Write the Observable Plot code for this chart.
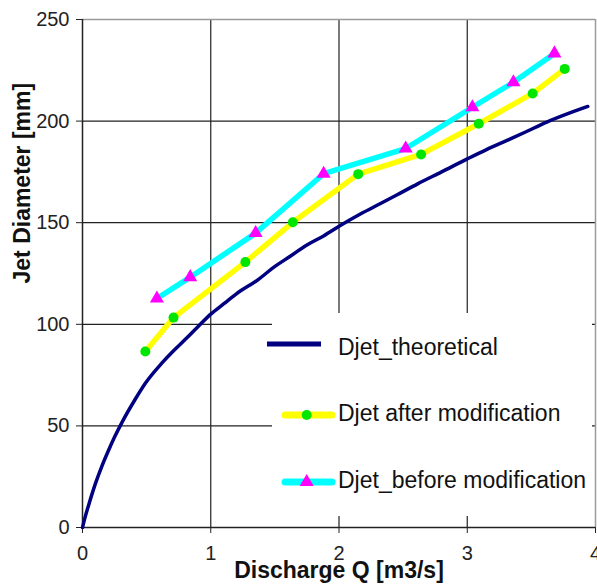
<!DOCTYPE html>
<html>
<head>
<meta charset="utf-8">
<script src="https://cdn.jsdelivr.net/npm/d3@7"></script>
<script src="https://cdn.jsdelivr.net/npm/@observablehq/plot@0.6"></script>
<style>
  html, body { margin: 0; padding: 0; background: #fff; }
  #wrap { position: relative; width: 597px; height: 588px; font-family: 'Liberation Sans', Arial, sans-serif; }
  #legend { position: absolute; left: 262px; top: 313px; }
</style>
</head>
<body>
<div id="wrap"></div>
<script>
// ---- data ----
const theoQ = [0, 0.02, 0.05, 0.1, 0.15, 0.2, 0.25, 0.31, 0.41, 0.49, 0.62, 0.71, 0.8, 0.9, 1.0, 1.1, 1.2, 1.37, 1.49, 1.62, 1.75, 1.88, 2.01, 2.17, 2.32, 2.45, 2.61, 2.8, 3.0, 3.15, 3.31, 3.45, 3.62, 3.8, 3.94];
const theoD = [0, 5, 11.5, 21.5, 30, 37.5, 44.5, 52, 63, 71, 81, 87, 92.5, 98.8, 105, 110, 115, 122, 128, 133.5, 139, 143.5, 148.6, 154.4, 159.3, 163.6, 169, 175, 181.4, 186, 190.5, 194.5, 199.5, 204, 207.2];

const afterQ = [0.49, 0.71, 1.27, 1.64, 2.15, 2.64, 3.09, 3.51, 3.76];
const afterD = [86.6, 103.3, 130.6, 150.2, 173.9, 183.6, 198.7, 213.6, 225.7];

const beforeQ = [0.58, 0.84, 1.35, 1.88, 2.52, 3.04, 3.36, 3.68];
const beforeD = [112.7, 123.2, 144.9, 174.1, 186.5, 206.8, 219.1, 233.3];

const xTicks = [0, 1, 2, 3, 4];
const yTicks = [0, 50, 100, 150, 200, 250];
const xGrid = [1, 2, 3];
const yGrid = [50, 100, 150, 200];

const xTitle = "Discharge Q [m3/s]";
const yTitle = "Jet Diameter [mm]";
const seriesNames = ["Djet_theoretical", "Djet after modification", "Djet_before modification"];

// ---- tables ----
const theo = theoQ.map((q, i) => ({Q: q, D: theoD[i]}));
const after = afterQ.map((q, i) => ({Q: q, D: afterD[i]}));
const before = beforeQ.map((q, i) => ({Q: q, D: beforeD[i]}));

const chart = Plot.plot({
  width: 597,
  height: 588,
  marginLeft: 82,
  marginRight: 2,
  marginTop: 19,
  marginBottom: 61,
  x: {domain: [0, 4]},
  y: {domain: [0, 250]},
  style: {fontFamily: "'Liberation Sans', Arial, sans-serif", fontSize: "20px", color: "#222", background: "white", overflow: "visible"},
  marks: [
    Plot.gridX(xGrid, {stroke: "#222", strokeOpacity: 1, strokeWidth: 1.2}),
    Plot.gridY(yGrid, {stroke: "#222", strokeOpacity: 1, strokeWidth: 1.2}),
    Plot.ruleY([250], {stroke: "#9a9a9a", strokeWidth: 1.5}),
    Plot.ruleX([4], {stroke: "#9a9a9a", strokeWidth: 1.5}),
    Plot.axisY({ticks: yTicks, tickSize: 6, tickPadding: 7, label: null, fontSize: 20, stroke: "#222", tickFormat: d3.format("d")}),
    Plot.axisX({ticks: xTicks, tickSize: 6, tickPadding: 12, label: null, fontSize: 20, stroke: "#222", tickFormat: d3.format("d")}),
    Plot.ruleX([0], {stroke: "#222", strokeWidth: 1.5}),
    Plot.ruleY([0], {stroke: "#222", strokeWidth: 1.5}),
    Plot.line(theo, {x: "Q", y: "D", stroke: "#000080", strokeWidth: 3.5, curve: "monotone-x"}),
    Plot.line(after, {x: "Q", y: "D", stroke: "#ffff00", strokeWidth: 5.5}),
    Plot.line(before, {x: "Q", y: "D", stroke: "#00ffff", strokeWidth: 5.5}),
    Plot.dot(after, {x: "Q", y: "D", r: 5, fill: "#00e600", stroke: "none"}),
    Plot.dot(before, {x: "Q", y: "D", r: 5.2, symbol: "triangle", fill: "#ff00ff", stroke: "none"}),
    Plot.text([xTitle], {text: d => d, frameAnchor: "bottom", dy: 50, fontWeight: "bold", fontSize: 23, fill: "#111"}),
    Plot.text([yTitle], {text: d => d, frameAnchor: "left", rotate: -90, dx: -60, dy: 10, fontWeight: "bold", fontSize: 23, fill: "#111"})
  ]
});

const wrap = document.getElementById("wrap");
wrap.appendChild(chart);

// ---- legend ----
const ns = "http://www.w3.org/2000/svg";
const leg = document.createElementNS(ns, "svg");
leg.setAttribute("id", "legend");
leg.setAttribute("width", 335);
leg.setAttribute("height", 205);
leg.style.overflow = "visible";
function el(name, attrs) {
  const e = document.createElementNS(ns, name);
  for (const k in attrs) e.setAttribute(k, attrs[k]);
  leg.appendChild(e);
  return e;
}
el("rect", {x: 10, y: 0, width: 320, height: 203, fill: "white"});
const rows = [
  {y: 31, base: 42, stroke: "#000080", w: 5, x1: 5, x2: 59, cap: "butt", marker: null},
  {y: 102, base: 108, stroke: "#ffff00", w: 7, x1: 23, x2: 70, cap: "round", marker: "circle"},
  {y: 169, base: 175, stroke: "#00ffff", w: 7, x1: 23, x2: 70, cap: "round", marker: "triangle"}
];
rows.forEach((r, i) => {
  el("line", {x1: r.x1, x2: r.x2, y1: r.y, y2: r.y, stroke: r.stroke, "stroke-width": r.w, "stroke-linecap": r.cap});
  if (r.marker === "circle") el("circle", {cx: 44.7, cy: r.y, r: 5, fill: "#00e600"});
  if (r.marker === "triangle") el("path", {d: d3.symbol(d3.symbolTriangle, Math.PI * 5.2 * 5.2)(), transform: `translate(44.7,${r.y})`, fill: "#ff00ff"});
  const t = el("text", {x: 76, y: r.base, "font-size": 23, fill: "#111", "font-family": "'Liberation Sans', Arial, sans-serif"});
  t.textContent = seriesNames[i];
});
wrap.appendChild(leg);
</script>
</body>
</html>
